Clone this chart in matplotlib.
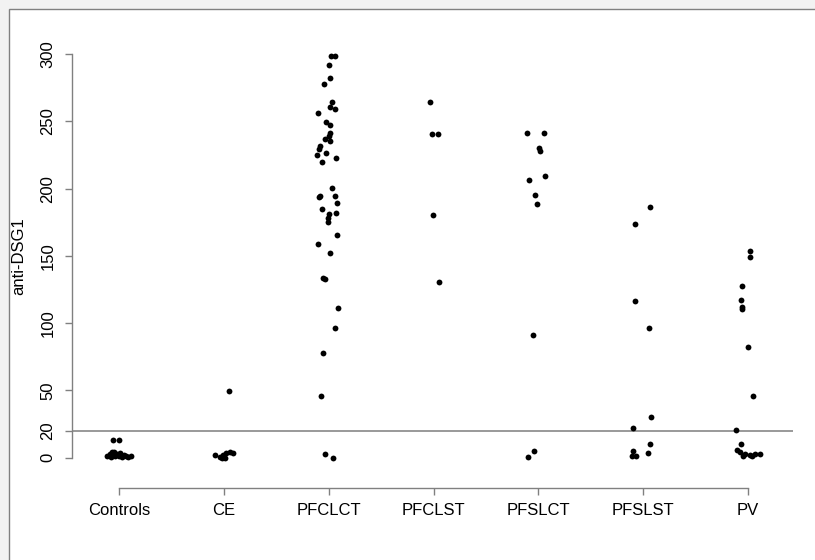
import matplotlib
matplotlib.use('Agg')
import matplotlib.pyplot as plt
from matplotlib.patches import Rectangle

plt.rcParams['font.family'] = ['Liberation Sans', 'DejaVu Sans']

# Groups along the x axis
groups = ['Controls', 'CE', 'PFCLCT', 'PFCLST', 'PFSLCT', 'PFSLST', 'PV']

# anti-DSG1 values per group, with the horizontal jitter
controls_vals = [13, 13, 1, 2.5, 4, 4.5, 1.5, 3, 1, 3.5, 0.5, 2, 1.5, 0.5, 1.5, 0.5]
controls_jit = [-0.06, 0.0, -0.11, -0.09, -0.07, -0.05, -0.04, -0.02, 0.0, 0.01,
                0.03, 0.05, 0.07, 0.09, 0.11, -0.08]

ce_vals = [2, 0.8, 2, 3.3, 4.5, 3.7, 0, 0, 49.4]
ce_jit = [-0.086, -0.04, -0.01, 0.02, 0.06, 0.09, 0.01, -0.02, 0.048]

pfclct_vals = [298.7, 298.9, 292, 282, 277.8, 264.2, 261, 259.3, 256.5, 249.8,
               247.1, 241.2, 239.2, 236.7, 235.7, 231.7, 229.3, 225, 226.8, 223,
               219.6, 200.3, 194.6, 193.6, 194.6, 189.4, 184.9, 181.2, 181.7, 178,
               175.5, 165.6, 159.1, 152, 133.4, 132.6, 111.5, 96.2, 77.8, 46.1,
               2.75, 0]
pfclct_jit = [0.02, 0.06, 0.0, 0.01, -0.045, 0.03, 0.016, 0.06, -0.10, -0.03,
              0.016, 0.01, 0.0, -0.035, 0.016, -0.086, -0.095, -0.108, -0.022, 0.073,
              -0.064, 0.035, -0.08, -0.093, 0.057, 0.083, -0.06, 0.003, 0.067, -0.007,
              -0.003, 0.083, -0.10, 0.016, -0.054, -0.035, 0.089, 0.064, -0.057, -0.07,
              -0.035, 0.041]

pfclst_vals = [264.2, 240.4, 240.9, 180.2, 130.9]
pfclst_jit = [-0.038, -0.016, 0.041, -0.007, 0.05]

pfslct_vals = [241.2, 241.2, 230, 228.3, 206.7, 209.7, 195.3, 188.4, 91, 5.2, 0.8]
pfslct_jit = [-0.108, 0.054, 0.01, 0.019, -0.086, 0.064, -0.035, -0.01, -0.054, -0.045, -0.095]

pfslst_vals = [186.2, 173.8, 116.5, 96.4, 30.5, 22.1, 10, 3.3, 5.2, 1.3, 1.3]
pfslst_jit = [0.064, -0.076, -0.079, 0.06, 0.07, -0.10, 0.067, 0.05, -0.095, -0.108, -0.067]

pv_vals = [153.7, 149.4, 127.9, 117.2, 111.8, 110.5, 82.5, 46.1, 20.6, 9.9,
           5.7, 4.2, 2.8, 2, 2.8, 2.8, 1.3, 1.6]
pv_jit = [0.022, 0.016, -0.06, -0.07, -0.054, -0.06, -0.003, 0.045, -0.117, -0.07,
          -0.105, -0.08, -0.03, 0.02, 0.07, 0.11, -0.05, 0.04]

all_vals = [controls_vals, ce_vals, pfclct_vals, pfclst_vals, pfslct_vals, pfslst_vals, pv_vals]
all_jit = [controls_jit, ce_jit, pfclct_jit, pfclst_jit, pfslct_jit, pfslst_jit, pv_jit]

yticks = [0, 20, 50, 100, 150, 200, 250, 300]
cutoff = 20

fig = plt.figure(figsize=(8.15, 5.6), dpi=100)
fig.patch.set_facecolor('#f2f2f2')
# white panel with a grey border, open at the right and bottom
panel = Rectangle((9 / 815, -0.1), 1.0, (560 - 9) / 560 + 0.1,
                  transform=fig.transFigure, facecolor='white',
                  edgecolor='#808080', lw=1.0, zorder=-10)
fig.patches.append(panel)

ax = fig.add_axes([72 / 815, (560 - 488) / 560, 721 / 815, 458 / 560])
ax.set_zorder(5)
ax.set_facecolor('none')

for i, (vals, jit) in enumerate(zip(all_vals, all_jit)):
    xs = [i + 1 + j for j in jit]
    ax.plot(xs, vals, 'o', color='black', markersize=4.2, markeredgewidth=0)

ax.axhline(cutoff, color='#999999', lw=1.4, zorder=1)

ax.set_xlim(0.5516, 7.429)
ax.set_ylim(-22.53, 318.0)

for s in ['top', 'right']:
    ax.spines[s].set_visible(False)
ax.spines['left'].set_bounds(0, 300)
ax.spines['bottom'].set_bounds(1, 7)
for s in ['left', 'bottom']:
    ax.spines[s].set_color('#808080')
    ax.spines[s].set_linewidth(1.0)

ax.set_xticks(range(1, 8))
ax.set_xticklabels(groups, fontsize=12)
ax.set_yticks(yticks)
ax.set_yticklabels([str(t) for t in yticks], fontsize=12, rotation=90, va='center')
ax.tick_params(axis='both', length=5, width=1.0, color='#808080')
ax.tick_params(axis='x', pad=6)
ax.tick_params(axis='y', pad=7)

ax.set_ylabel('anti-DSG1', fontsize=12)
ax.yaxis.set_label_coords(-0.064, (150 + 22.53) / (318.0 + 22.53))

fig.savefig('out.png', dpi=100, facecolor=fig.get_facecolor())
